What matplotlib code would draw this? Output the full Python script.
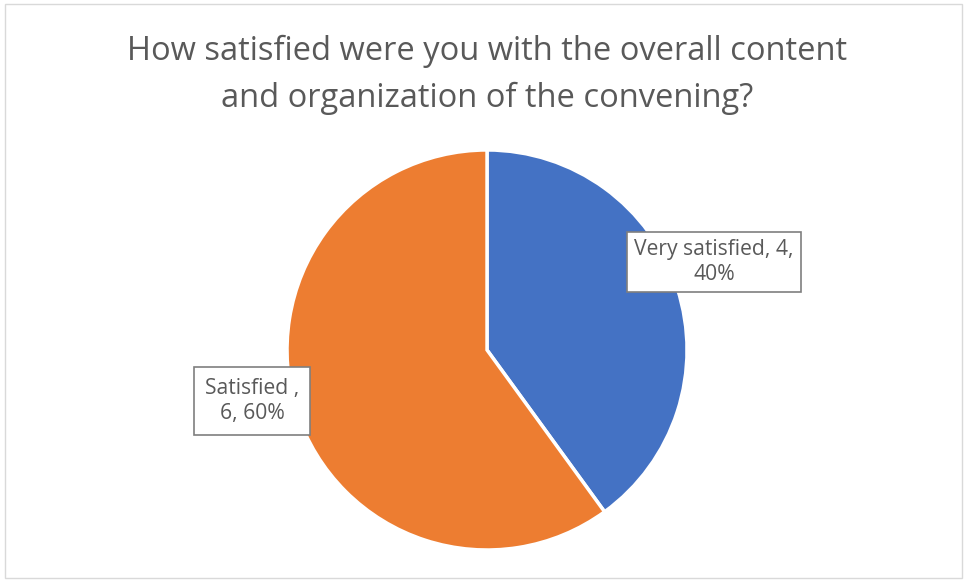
import matplotlib.pyplot as plt
from matplotlib.patches import Rectangle

plt.rcParams['font.family'] = ['Open Sans', 'DejaVu Sans']

title = 'How satisfied were you with the overall content\nand organization of the convening?'
categories = ['Very satisfied', 'Satisfied ']
counts = [4, 6]
colors = ['#4472C4', '#ED7D31']
text_color = '#595959'

fig = plt.figure(figsize=(9.67, 5.82), dpi=100)
fig.patches.append(Rectangle((5 / 967, 4 / 582), 957 / 967, 574 / 582, transform=fig.transFigure,
                             facecolor='white', edgecolor='#D9D9D9', linewidth=1, zorder=-1))

ax = fig.add_axes([0.2968, 0.0550, 0.4137, 0.6873])
ax.pie(counts, colors=colors, startangle=90, counterclock=False, radius=1,
       wedgeprops=dict(edgecolor='white', linewidth=2.5))
ax.set_xlim(-1, 1)
ax.set_ylim(-1, 1)
ax.set_aspect('equal')

total = sum(counts)
label_text = [f'{categories[0]}, {counts[0]},\n{counts[0] / total:.0%}',
              f'{categories[1]},\n{counts[1]}, {counts[1] / total:.0%}']
label_pos = [(1.135, 0.44), (-1.175, -0.255)]
label_pad = [0.35, 0.5]
for txt, (x, y), pad in zip(label_text, label_pos, label_pad):
    ax.text(x, y, txt, ha='center', va='center', fontsize=15.2, color=text_color,
            linespacing=1.25,
            bbox=dict(boxstyle=f'square,pad={pad}', facecolor='white', edgecolor='#7F7F7F', linewidth=1.2))

fig.text(0.5036, 1 - 75 / 582, title, ha='center', va='center', fontsize=23.5,
         color=text_color, linespacing=1.55)

fig.savefig('out.png', dpi=100)
